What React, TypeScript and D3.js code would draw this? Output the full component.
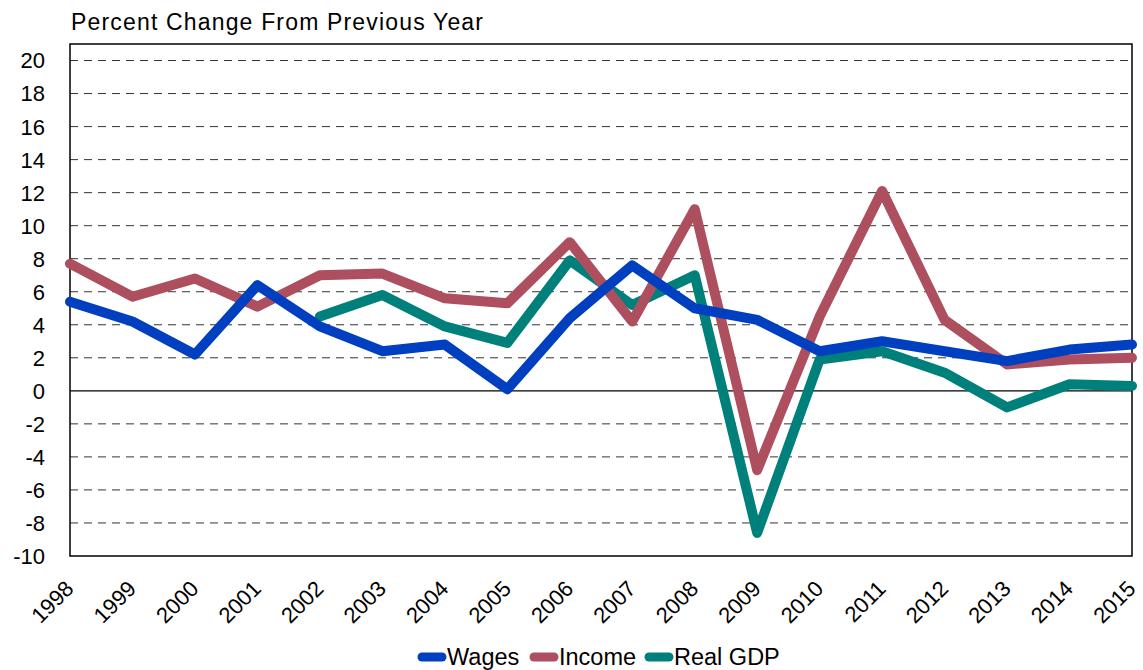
import { useEffect, useRef } from "react"
import * as d3 from "d3"

const years = [1998, 1999, 2000, 2001, 2002, 2003, 2004, 2005, 2006, 2007, 2008, 2009, 2010, 2011, 2012, 2013, 2014, 2015]

const wages = [5.4, 4.2, 2.2, 6.4, 3.9, 2.4, 2.8, 0.1, 4.4, 7.6, 5.0, 4.3, 2.4, 3.0, 2.4, 1.8, 2.5, 2.8]
const income = [7.7, 5.7, 6.8, 5.1, 7.0, 7.1, 5.6, 5.3, 9.0, 4.2, 11.0, -4.8, 4.5, 12.1, 4.3, 1.6, 1.9, 2.0]
const realGdp = [null, null, null, null, 4.5, 5.8, 3.9, 2.9, 7.9, 5.2, 7.0, -8.6, 1.9, 2.4, 1.1, -1.0, 0.4, 0.3]

const yTicks = [-10, -8, -6, -4, -2, 0, 2, 4, 6, 8, 10, 12, 14, 16, 18, 20]

const seriesNames = ["Wages", "Income", "Real GDP"]
const seriesColors = ["#0040c0", "#ad4f5f", "#00807a"]

export default function App() {
  const svgRef = useRef<SVGSVGElement | null>(null)

  useEffect(() => {
    document.body.style.margin = "0"
    if (!svgRef.current) return

    const width = 1143
    const height = 670
    const margin = { top: 44, right: 11, bottom: 114, left: 70 }
    const font = "'Liberation Sans', Arial, sans-serif"

    const svg = d3.select(svgRef.current).attr("width", width).attr("height", height)
    svg.selectAll("*").remove()

    const x = d3
      .scaleLinear()
      .domain([years[0], years[years.length - 1]])
      .range([margin.left, width - margin.right])

    const y = d3
      .scaleLinear()
      .domain([-10, 21])
      .range([height - margin.bottom, margin.top])

    // Dashed grid
    svg
      .append("g")
      .selectAll("line")
      .data(yTicks.filter(t => t !== 0 && t !== -10))
      .join("line")
      .attr("x1", margin.left)
      .attr("x2", width - margin.right)
      .attr("y1", d => y(d))
      .attr("y2", d => y(d))
      .attr("stroke", "#333")
      .attr("stroke-width", 1)
      .attr("stroke-dasharray", "8,6")

    // Zero line
    svg
      .append("line")
      .attr("x1", margin.left)
      .attr("x2", width - margin.right)
      .attr("y1", y(0))
      .attr("y2", y(0))
      .attr("stroke", "#000")
      .attr("stroke-width", 1.2)

    // Plot border
    svg
      .append("rect")
      .attr("x", margin.left)
      .attr("y", margin.top)
      .attr("width", width - margin.left - margin.right)
      .attr("height", height - margin.top - margin.bottom)
      .attr("fill", "none")
      .attr("stroke", "#000")
      .attr("stroke-width", 1.5)

    // Y tick labels
    svg
      .append("g")
      .selectAll("text")
      .data(yTicks)
      .join("text")
      .attr("x", 45)
      .attr("y", d => y(d))
      .attr("dy", "0.36em")
      .attr("text-anchor", "end")
      .attr("font-family", font)
      .attr("font-size", 22)
      .attr("fill", "#000")
      .text(d => String(d))

    // X tick labels
    svg
      .append("g")
      .selectAll("text")
      .data(years)
      .join("text")
      .attr("transform", d => `translate(${x(d) + 5},590) rotate(-45)`)
      .attr("text-anchor", "end")
      .attr("font-family", font)
      .attr("font-size", 22)
      .attr("fill", "#000")
      .text(d => String(d))

    // Title
    svg
      .append("text")
      .attr("x", 71)
      .attr("y", 30)
      .attr("font-family", font)
      .attr("font-size", 23)
      .attr("textLength", 412)
      .attr("lengthAdjust", "spacing")
      .attr("fill", "#000")
      .text("Percent Change From Previous Year")

    const allSeries = [wages, income, realGdp]
    const line = d3
      .line<number | null>()
      .defined(d => d !== null)
      .x((_, i) => x(years[i]))
      .y(d => y(d as number))

    // Lines: GDP first, then income, wages on top
    const order = [2, 1, 0]
    order.forEach(i => {
      svg
        .append("path")
        .datum(allSeries[i])
        .attr("fill", "none")
        .attr("stroke", seriesColors[i])
        .attr("stroke-width", 10)
        .attr("stroke-linejoin", "round")
        .attr("stroke-linecap", "round")
        .attr("d", line)
    })

    // Legend
    const legendY = 657
    const legend = svg.append("g")
    const legendX = [418, 530, 645]
    seriesNames.forEach((name, i) => {
      legend
        .append("line")
        .attr("x1", legendX[i] + 4)
        .attr("x2", legendX[i] + 24)
        .attr("y1", legendY)
        .attr("y2", legendY)
        .attr("stroke", seriesColors[i])
        .attr("stroke-width", 9)
        .attr("stroke-linecap", "round")
      legend
        .append("text")
        .attr("x", legendX[i] + 29)
        .attr("y", legendY)
        .attr("dy", "0.36em")
        .attr("font-family", font)
        .attr("font-size", 23.5)
        .attr("fill", "#000")
        .text(name)
    })
  }, [])

  return (
    <div className="w-full">
      <svg ref={svgRef} style={{ display: "block" }} />
    </div>
  )
}
